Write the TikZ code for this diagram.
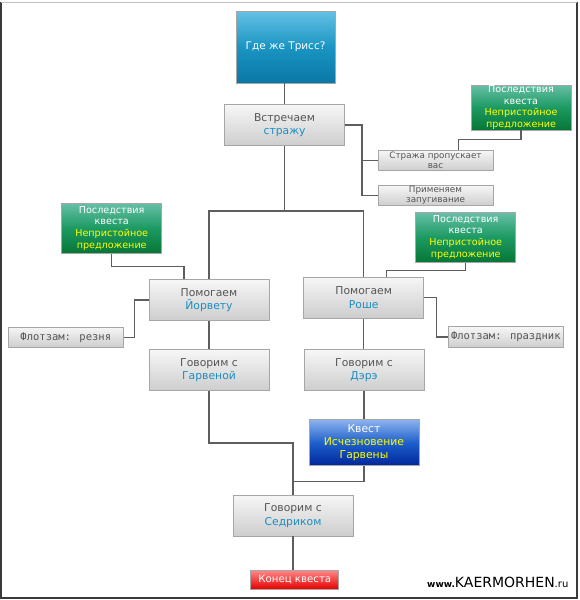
\documentclass[tikz,border=0pt]{standalone}
\usepackage{fontspec}
\setmainfont{DejaVu Sans}
\newfontfamily\flotfont{DejaVu Sans Mono}
\usetikzlibrary{calc}

\definecolor{framec}{HTML}{3A3A3A}
\definecolor{linec}{HTML}{5E5E5E}
\definecolor{boxline}{HTML}{A6A6A6}
\definecolor{graytop}{HTML}{F6F6F6}
\definecolor{graybot}{HTML}{CDCDCD}
\definecolor{txtgray}{HTML}{555555}
\definecolor{txtblue}{HTML}{1A8EC2}
\definecolor{txtyellow}{HTML}{FFFF00}
\definecolor{greentop}{HTML}{66BFA6}
\definecolor{greenmid}{HTML}{1C9A62}
\definecolor{greenbot}{HTML}{077636}
\definecolor{titletop}{HTML}{66C1E4}
\definecolor{titlemid}{HTML}{1A95C3}
\definecolor{titlebot}{HTML}{0A77A6}
\definecolor{questtop}{HTML}{8CB2EE}
\definecolor{questmid}{HTML}{1D5FCB}
\definecolor{questbot}{HTML}{00259A}
\definecolor{endtop}{HTML}{FF8A8A}
\definecolor{endbot}{HTML}{E60000}

\tikzset{
  anybox/.style={rectangle, draw=boxline, line width=0.9pt, inner sep=0pt, align=center},
  graybox/.style={anybox, top color=graytop, bottom color=graybot, text=txtgray,
    minimum width=120pt, minimum height=41pt, font=\fontsize{10.8}{13.5}\selectfont},
  smallbox/.style={anybox, top color=graytop, bottom color=graybot, text=txtgray,
    minimum width=115pt, minimum height=20.5pt, font=\fontsize{8.8}{10}\selectfont},
  flotbox/.style={smallbox, font=\flotfont\fontsize{10.5}{12}\selectfont},
  greenbox/.style={anybox, top color=greentop, bottom color=greenbot, middle color=greenmid,
    text=white, minimum width=100pt, font=\fontsize{9.6}{11.8}\selectfont},
  titlebox/.style={anybox, top color=titletop, bottom color=titlebot, middle color=titlemid,
    text=white, minimum width=99pt, minimum height=72pt, font=\fontsize{10.5}{13}\selectfont},
  questbox/.style={anybox, top color=questtop, bottom color=questbot, middle color=questmid,
    text=white, minimum width=110pt, minimum height=46pt, font=\fontsize{10.8}{13.3}\selectfont},
  endbox/.style={anybox, top color=endtop, bottom color=endbot, text=white,
    minimum width=88pt, minimum height=19pt, font=\fontsize{10.2}{12}\selectfont},
  link/.style={draw=linec, line width=1.3pt}
}

\begin{document}
\begin{tikzpicture}[x=1pt,y=-1pt]
  \useasboundingbox (0,0) rectangle (580,600);

  % outer frame
  \draw[framec,line width=2pt] (1,2) -- (1,598) -- (577,598) -- (577,2);
  \draw[gray!50,line width=0.8pt] (1,2) -- (577,2);

  % start
  \node[titlebox] (triss) at (285.5,47) {Где же Трисс?};
  \node[graybox] (guard) at (284.5,125) {Встречаем\\\textcolor{txtblue}{стражу}};

  % guard branch
  \node[smallbox] (pass) at (435.5,160.5) {Стража пропускает\\вас};
  \node[smallbox] (scare) at (435.5,195.5) {Применяем\\запугивание};
  \node[greenbox, minimum height=45pt] (consA) at (521,107.5)
    {Последствия\\квеста\\\textcolor{txtyellow}{Непристойное}\\\textcolor{txtyellow}{предложение}};

  % helping Iorveth or Roche
  \node[greenbox, minimum height=50pt] (consB) at (111.7,228.3)
    {Последствия\\квеста\\\textcolor{txtyellow}{Непристойное}\\\textcolor{txtyellow}{предложение}};
  \node[greenbox, minimum height=50pt] (consC) at (465.7,237.3)
    {Последствия\\квеста\\\textcolor{txtyellow}{Непристойное}\\\textcolor{txtyellow}{предложение}};
  \node[graybox] (iorv) at (209,300) {Помогаем\\\textcolor{txtblue}{Йорвету}};
  \node[graybox] (roche) at (363.7,297.8) {Помогаем\\\textcolor{txtblue}{Роше}};
  \node[flotbox] (massacre) at (65.8,337.3) {Флотзам: резня};
  \node[flotbox] (feast) at (505.8,337) {Флотзам: праздник};

  % talks
  \node[graybox] (harv) at (209,370) {Говорим с\\\textcolor{txtblue}{Гарвеной}};
  \node[graybox] (dere) at (364,370) {Говорим с\\\textcolor{txtblue}{Дэрэ}};
  \node[questbox] (quest) at (364,442.8)
    {Квест\\\textcolor{txtyellow}{Исчезновение}\\\textcolor{txtyellow}{Гарвены}};
  \node[graybox] (cedr) at (293,515.5) {Говорим с\\\textcolor{txtblue}{Седриком}};
  \node[endbox] (fin) at (294.8,579.5) {Конец квеста};

  % connectors
  \draw[link] (guard.north |- triss.south) -- (guard.north);
  \draw[link] (guard.east) -- ++(17,0) |- (scare.west);
  \draw[link] (guard.east) ++(17,0) |- (pass.west);
  \draw[link] ([xshift=23pt]pass.north) -- ++(0,-10) -| (consA.south);
  \draw[link] (guard.south) -- ++(0,65) coordinate (split);
  \draw[link] (split) -| (iorv.north);
  \draw[link] (split) -| (roche.north);
  \draw[link] (consB.south) -- ++(0,12.5) -| ([xshift=-25pt]iorv.north);
  \draw[link] (consC.south) -- ++(0,8) -| ([xshift=23pt]roche.north);
  \draw[link] (iorv.west) -- ++(-14,0) |- (massacre.east);
  \draw[link] (roche.east) -- ++(12,0) |- (feast.west);
  \draw[link] (iorv.south) -- (harv.north);
  \draw[link] (roche.south) -- (roche.south |- dere.north);
  \draw[link] (dere.south) -- (quest.north);
  \draw[link] (harv.south) -- ++(0,52) -| (cedr.north);
  \draw[link] (quest.south) -- ++(0,15) -| (cedr.north);
  \draw[link] (cedr.south) -- (cedr.south |- fin.north);

  % site mark
  \node[anchor=base west, inner sep=0pt, text=black] (site) at (427,587)
    {\fontsize{9}{9}\selectfont\bfseries www.\fontsize{14}{14}\selectfont\mdseries KAERMORHEN\fontsize{10}{10}\selectfont .ru};
\end{tikzpicture}
\end{document}
